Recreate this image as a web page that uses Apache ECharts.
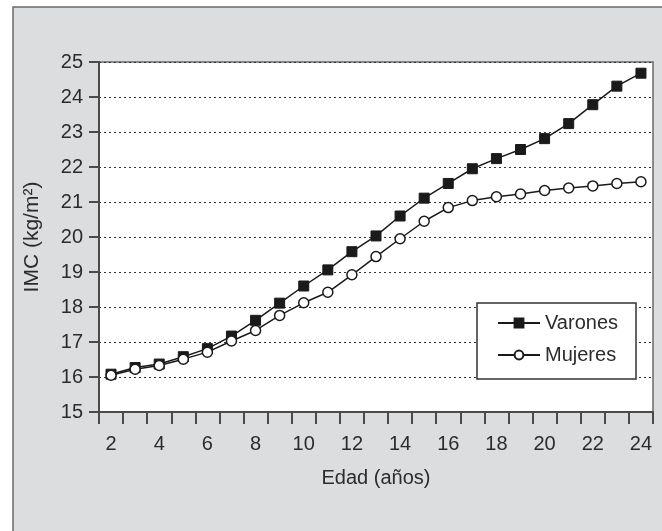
<!DOCTYPE html>
<html>
<head>
<meta charset="utf-8">
<script src="https://cdn.jsdelivr.net/npm/echarts@6/dist/echarts.min.js"></script>
<style>html,body{margin:0;padding:0;background:#fff}#c{width:662px;height:531px}</style>
</head>
<body>
<div id="c"></div>
<script>
const ages = ['2','3','4','5','6','7','8','9','10','11','12','13','14','15','16','17','18','19','20','21','22','23','24'];
const varones = [16.08,16.27,16.37,16.58,16.81,17.17,17.62,18.11,18.60,19.06,19.58,20.03,20.60,21.11,21.53,21.95,22.24,22.50,22.81,23.24,23.78,24.31,24.68];
const mujeres = [16.05,16.22,16.33,16.51,16.71,17.03,17.33,17.76,18.12,18.42,18.92,19.44,19.95,20.45,20.84,21.04,21.15,21.23,21.33,21.40,21.46,21.53,21.58];
const yTicks = {min: 15, max: 25, interval: 1};

const FONT = '"Liberation Sans", Arial, sans-serif';
const TXT = '#2b2b2b';
const AX = '#4a4a4a';

const chart = echarts.init(document.getElementById('c'), null, {renderer: 'canvas'});
chart.setOption({
  backgroundColor: '#ffffff',
  animation: false,
  textStyle: {fontFamily: FONT, color: TXT},
  graphic: [{
    type: 'rect', z: -100,
    shape: {x: 13, y: 7, width: 720, height: 600},
    style: {fill: '#dcdddf', stroke: '#6a6a6a', lineWidth: 1.5}
  }],
  grid: {
    left: 99, top: 62, right: 9, bottom: 119,
    show: true, backgroundColor: '#ffffff', borderColor: '#6a6a6a', borderWidth: 1.5
  },
  legend: {
    orient: 'vertical',
    left: 477, top: 303,
    padding: [10, 18, 14, 20],
    itemWidth: 42, itemHeight: 11, itemGap: 12,
    backgroundColor: '#ffffff', borderColor: '#333', borderWidth: 1.5,
    textStyle: {fontSize: 20, color: TXT, fontFamily: FONT},
    data: ['Varones', 'Mujeres']
  },
  xAxis: {
    type: 'category',
    data: ages,
    boundaryGap: true,
    name: 'Edad (años)',
    nameLocation: 'middle',
    nameGap: 56,
    nameTextStyle: {fontSize: 20, color: TXT, fontFamily: FONT},
    axisLine: {lineStyle: {color: AX, width: 2}},
    axisTick: {show: true, interval: 0, length: 12, lineStyle: {color: AX, width: 2}},
    axisLabel: {interval: 1, margin: 22, fontSize: 20, color: TXT, fontFamily: FONT},
    splitLine: {show: false}
  },
  yAxis: {
    type: 'value',
    min: yTicks.min, max: yTicks.max, interval: yTicks.interval,
    name: 'IMC (kg/m²)',
    nameLocation: 'middle',
    nameGap: 56,
    nameTextStyle: {fontSize: 21, color: TXT, fontFamily: FONT},
    axisLine: {show: true, lineStyle: {color: AX, width: 2}},
    axisTick: {show: true, length: 10, lineStyle: {color: AX, width: 2}},
    axisLabel: {margin: 16, fontSize: 20, color: TXT, fontFamily: FONT},
    splitLine: {show: true, lineStyle: {color: '#333', width: 1, type: [2, 3]}}
  },
  series: [
    {
      name: 'Varones', type: 'line', data: varones,
      symbol: 'rect', symbolSize: 10,
      lineStyle: {color: '#1a1a1a', width: 1.5},
      itemStyle: {color: '#1a1a1a', borderColor: '#1a1a1a', borderWidth: 1}
    },
    {
      name: 'Mujeres', type: 'line', data: mujeres,
      symbol: 'circle', symbolSize: 10,
      lineStyle: {color: '#1a1a1a', width: 1.5},
      itemStyle: {color: '#ffffff', borderColor: '#1a1a1a', borderWidth: 1.5}
    }
  ]
});
</script>
</body>
</html>
